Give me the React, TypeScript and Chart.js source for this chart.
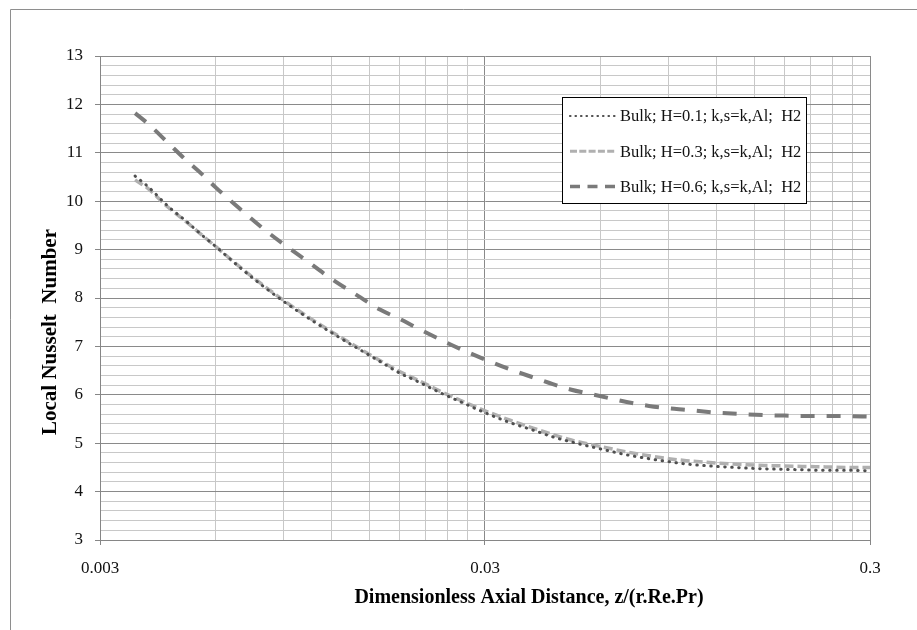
import React, { useEffect, useRef } from 'react';
import { Chart, registerables } from 'chart.js';

Chart.register(...registerables);

// Axial positions z/(r.Re.Pr) shared by every series
const X_VALUES = [
  0.0037, 0.004, 0.0045, 0.005, 0.0055, 0.006, 0.007, 0.008, 0.009, 0.010,
  0.012, 0.014, 0.016, 0.018, 0.020, 0.023, 0.026, 0.030, 0.035, 0.040,
  0.045, 0.050, 0.06, 0.07, 0.08, 0.09, 0.10, 0.12, 0.14, 0.16,
  0.18, 0.20, 0.23, 0.26, 0.30,
];

// Local Nusselt number, bulk temperature basis
const NU_H01 = [
  10.52, 10.30, 9.90, 9.60, 9.31, 9.06, 8.60, 8.23, 7.93, 7.68,
  7.28, 6.96, 6.69, 6.45, 6.28, 6.04, 5.85, 5.63, 5.42, 5.27,
  5.13, 5.03, 4.88, 4.76, 4.68, 4.62, 4.57, 4.52, 4.49, 4.47,
  4.46, 4.45, 4.44, 4.44, 4.43,
];
const NU_H03 = [
  10.44, 10.26, 9.88, 9.59, 9.31, 9.06, 8.61, 8.25, 7.95, 7.70,
  7.30, 6.98, 6.71, 6.48, 6.31, 6.07, 5.88, 5.67, 5.47, 5.31,
  5.18, 5.07, 4.93, 4.82, 4.74, 4.68, 4.64, 4.59, 4.56, 4.54,
  4.53, 4.52, 4.51, 4.50, 4.50,
];
const NU_H06 = [
  11.82, 11.60, 11.21, 10.86, 10.57, 10.28, 9.81, 9.42, 9.11, 8.85,
  8.39, 8.05, 7.76, 7.57, 7.38, 7.14, 6.94, 6.73, 6.52, 6.36,
  6.22, 6.11, 5.97, 5.85, 5.77, 5.72, 5.69, 5.63, 5.60, 5.58,
  5.57, 5.56, 5.56, 5.56, 5.55,
];

const SERIES_LABELS = [
  'Bulk; H=0.1; k,s=k,Al;  H2',
  'Bulk; H=0.3; k,s=k,Al;  H2',
  'Bulk; H=0.6; k,s=k,Al;  H2',
];

const X_MAJOR_TICKS = [0.003, 0.03, 0.3];
const X_TICK_LABELS = ['0.003', '0.03', '0.3'];
const Y_MIN = 3;
const Y_MAX = 13;
const Y_MINOR_STEP = 0.2;

const X_TITLE = 'Dimensionless Axial Distance, z/(r.Re.Pr)';
const Y_TITLE = 'Local Nusselt  Number';

const FONT = "'Liberation Serif', 'Times New Roman', serif";
const AXIS_COLOR = '#868686';
const MAJOR_GRID = '#8a8a8a';
const MINOR_GRID = '#c8c8c8';

const SERIES_STYLE = [
  { color: '#4f4f4f', width: 3, dash: [0.5, 6.5], cap: 'round', legendDash: [0.5, 5], legendWidth: 2.2 },
  { color: '#b0b0b0', width: 3.5, dash: [9, 4], cap: 'butt', legendDash: [7, 2.3], legendWidth: 3 },
  { color: '#7a7a7a', width: 4, dash: [14, 12], cap: 'butt', legendDash: [10, 7.5], legendWidth: 3.5 },
];

// Grid positions on the log axis: every multiple of the decade start
const X_GRID: number[] = [];
for (let d = 0; d < X_MAJOR_TICKS.length - 1; d++) {
  for (let k = 1; k <= 9; k++) X_GRID.push(+(X_MAJOR_TICKS[d] * k).toPrecision(6));
}
X_GRID.push(X_MAJOR_TICKS[X_MAJOR_TICKS.length - 1]);

const Y_GRID: number[] = [];
for (let i = 0; i <= Math.round((Y_MAX - Y_MIN) / Y_MINOR_STEP); i++) {
  Y_GRID.push(Math.round((Y_MIN + i * Y_MINOR_STEP) * 10) / 10);
}

const xMajorIndex = (v: number) =>
  X_MAJOR_TICKS.findIndex((m) => Math.abs(v - m) / m < 1e-6);
const isYMajor = (v: number) => Math.abs(v - Math.round(v)) < 1e-6;

const decorPlugin = {
  id: 'decor',
  beforeDraw(chart: any) {
    const { ctx, width, height } = chart;
    ctx.save();
    ctx.fillStyle = '#ffffff';
    ctx.fillRect(0, 0, width, height);
    ctx.strokeStyle = '#8e8e8e';
    ctx.lineWidth = 1;
    ctx.beginPath();
    ctx.moveTo(10.5, height);
    ctx.lineTo(10.5, 9.5);
    ctx.lineTo(width, 9.5);
    ctx.stroke();
    ctx.restore();
  },
  afterDraw(chart: any) {
    const { ctx, chartArea } = chart;
    const { left, right, top, bottom } = chartArea;
    ctx.save();

    // axis titles
    ctx.fillStyle = '#000000';
    ctx.textAlign = 'center';
    ctx.textBaseline = 'middle';
    ctx.font = `bold 20px ${FONT}`;
    ctx.fillText(X_TITLE, (left + right) / 2 + 44, bottom + 58);
    ctx.save();
    ctx.translate(51, (top + bottom) / 2 + 34);
    ctx.rotate(-Math.PI / 2);
    ctx.font = `bold 21px ${FONT}`;
    ctx.fillText(Y_TITLE, 0, 0);
    ctx.restore();

    // legend box
    const bx = right - 308;
    const by = top + 41;
    const bw = 244;
    const bh = 106;
    ctx.fillStyle = '#ffffff';
    ctx.fillRect(bx, by, bw, bh);
    ctx.strokeStyle = '#000000';
    ctx.lineWidth = 1;
    ctx.strokeRect(bx + 0.5, by + 0.5, bw, bh);
    ctx.font = `16.5px ${FONT}`;
    ctx.textAlign = 'left';
    SERIES_LABELS.forEach((label, i) => {
      const st = SERIES_STYLE[i];
      const y = by + 19 + i * 35.3;
      ctx.save();
      ctx.strokeStyle = st.color;
      ctx.lineWidth = st.legendWidth;
      ctx.lineCap = st.cap;
      ctx.setLineDash(st.legendDash);
      ctx.beginPath();
      ctx.moveTo(bx + 8, y);
      ctx.lineTo(bx + 53, y);
      ctx.stroke();
      ctx.restore();
      ctx.fillStyle = '#111111';
      ctx.fillText(label, bx + 58, y + 1);
    });
    ctx.restore();
  },
};

export default function App() {
  const canvasRef = useRef<HTMLCanvasElement>(null);

  useEffect(() => {
    const canvas = canvasRef.current;
    if (!canvas) return;
    const series = [NU_H01, NU_H03, NU_H06];
    const chart = new Chart(canvas, {
      type: 'line',
      data: {
        datasets: series.map((vals, i) => ({
          label: SERIES_LABELS[i],
          data: X_VALUES.map((x, j) => ({ x, y: vals[j] })),
          borderColor: SERIES_STYLE[i].color,
          borderWidth: SERIES_STYLE[i].width,
          borderDash: SERIES_STYLE[i].dash,
          borderCapStyle: SERIES_STYLE[i].cap as CanvasLineCap,
          pointRadius: 0,
          fill: false,
          cubicInterpolationMode: 'monotone' as const,
        })),
      },
      options: {
        responsive: false,
        animation: false,
        devicePixelRatio: 1,
        layout: { padding: { top: 56, right: 47, left: 0, bottom: 0 } },
        plugins: {
          legend: { display: false },
          tooltip: { enabled: false },
          title: { display: false },
        },
        scales: {
          x: {
            type: 'logarithmic',
            min: X_MAJOR_TICKS[0],
            max: X_MAJOR_TICKS[X_MAJOR_TICKS.length - 1],
            afterBuildTicks: (scale: any) => {
              scale.ticks = X_GRID.map((value) => ({ value }));
            },
            afterFit: (scale: any) => {
              scale.height = 90;
            },
            ticks: {
              autoSkip: false,
              maxRotation: 0,
              minRotation: 0,
              padding: 13,
              color: '#111111',
              font: { family: FONT, size: 17 },
              callback: (v: any) => {
                const idx = xMajorIndex(Number(v));
                return idx >= 0 ? X_TICK_LABELS[idx] : '';
              },
            },
            grid: {
              lineWidth: 1,
              tickLength: 5,
              color: (c: any) =>
                c.tick && xMajorIndex(c.tick.value) >= 0 ? MAJOR_GRID : MINOR_GRID,
              tickColor: (c: any) =>
                c.tick && xMajorIndex(c.tick.value) >= 0 ? AXIS_COLOR : 'rgba(0,0,0,0)',
            },
            border: { color: AXIS_COLOR, width: 1 },
          },
          y: {
            type: 'linear',
            min: Y_MIN,
            max: Y_MAX,
            afterBuildTicks: (scale: any) => {
              scale.ticks = Y_GRID.map((value) => ({ value }));
            },
            afterFit: (scale: any) => {
              scale.width = 100;
            },
            ticks: {
              autoSkip: false,
              padding: 12,
              color: '#111111',
              font: { family: FONT, size: 17 },
              callback: (v: any) => (isYMajor(Number(v)) ? String(Math.round(Number(v))) : ''),
            },
            grid: {
              lineWidth: 1,
              tickLength: 5,
              color: (c: any) => (c.tick && isYMajor(c.tick.value) ? MAJOR_GRID : MINOR_GRID),
              tickColor: (c: any) =>
                c.tick && isYMajor(c.tick.value) ? AXIS_COLOR : 'rgba(0,0,0,0)',
            },
            border: { color: AXIS_COLOR, width: 1 },
          },
        },
      },
      plugins: [decorPlugin],
    });
    return () => chart.destroy();
  }, []);

  return (
    <div style={{ position: 'absolute', left: 0, top: 0, width: 917, height: 630, background: '#fff' }}>
      <canvas ref={canvasRef} width={917} height={630} />
    </div>
  );
}
